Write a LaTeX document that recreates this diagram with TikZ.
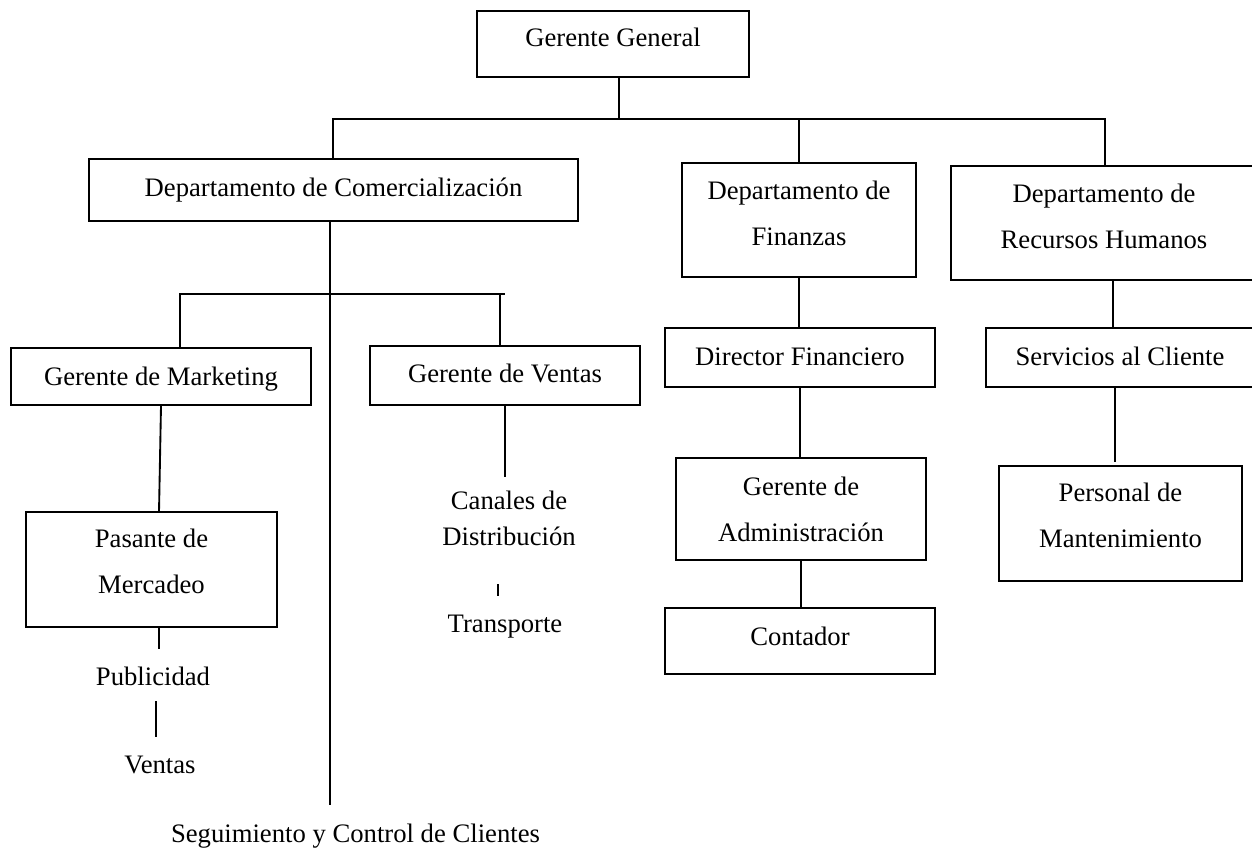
\documentclass[tikz,border=0pt]{standalone}
\usepackage{fontspec}
\setmainfont{Liberation Serif}
\usetikzlibrary{calc}
\newcommand\LiftTxt[2]{\raisebox{#1}[\height][\depth]{\begin{tabular}{@{}c@{}}#2\end{tabular}}}
\begin{document}
\begin{tikzpicture}[x=0.75pt,y=-0.75pt,line width=1.4pt,
  every node/.style={font=\fontsize{20}{34.5}\selectfont,inner sep=0pt},
  orgbox/.style={draw,rectangle,line width=1.4pt},
  sz/.style 2 args={minimum width=#1*0.75pt,minimum height=#2*0.75pt}]
\useasboundingbox (0,0) rectangle (1252,848);
\clip (0,0) rectangle (1252,848);

% boxes
\node[orgbox,sz={272}{66}]  (gg)   at (613,44)      {\LiftTxt{5.25pt}{Gerente General}};
\node[orgbox,sz={489}{62}]  (dcom) at (333.5,190)   {\LiftTxt{2.25pt}{Departamento de Comercialización}};
\node[orgbox,sz={234}{114}] (dfin) at (799,220)     {\LiftTxt{5.25pt}{Departamento de\\Finanzas}};
\node[orgbox,sz={306}{114}] (drh)  at (1104,223)    {\LiftTxt{5.25pt}{Departamento de\\Recursos Humanos}};
\node[orgbox,sz={300}{57}]  (gmk)  at (161,376.5)   {\LiftTxt{0pt}{Gerente de Marketing}};
\node[orgbox,sz={270}{59}]  (gven) at (505,375.5)   {\LiftTxt{1.5pt}{Gerente de Ventas}};
\node[orgbox,sz={270}{59}]  (dirf) at (800,357.5)   {\LiftTxt{0.75pt}{Director Financiero}};
\node[orgbox,sz={268}{59}]  (serv) at (1120,357.5)  {\LiftTxt{0.75pt}{Servicios al Cliente}};
\node[orgbox,sz={251}{115}] (pas)  at (151.5,569.5) {\LiftTxt{6pt}{Pasante de\\Mercadeo}};
\node[orgbox,sz={250}{102}] (gadm) at (801,509)     {\LiftTxt{0pt}{Gerente de\\Administración}};
\node[orgbox,sz={243}{115}] (pers) at (1120.5,523.5){\LiftTxt{6pt}{Personal de\\Mantenimiento}};
\node[orgbox,sz={270}{66}]  (cont) at (800,641)     {\LiftTxt{3.75pt}{Contador}};

% plain texts
\node (publ)   at (153,676)   {\LiftTxt{0pt}{Publicidad}};
\node (vent)   at (160,764)   {\LiftTxt{0pt}{Ventas}};
\node[font=\fontsize{20}{26.6}\selectfont] (canal) at (509,520.5) {\LiftTxt{0pt}{Canales de\\Distribución}};
\node (transp) at (505,623)   {\LiftTxt{0pt}{Transporte}};
\node (seg)    at (355.5,833) {\LiftTxt{0pt}{Seguimiento y Control de Clientes}};

% junction coordinates
\coordinate (j0)  at (619,119);
\coordinate (bL)  at (333,119);
\coordinate (bR)  at (1105,119);
\coordinate (segEnd) at (330,805);
\coordinate (c2L) at (180,294);
\coordinate (c2R) at (505,294);
\coordinate (c2V) at (500,294);
\coordinate (pasTop) at (159,512);
\coordinate (p1)  at (159,649);
\coordinate (p2)  at (156,701);
\coordinate (p3)  at (156,737);
\coordinate (k1)  at (505,477);
\coordinate (t1)  at (498,584);
\coordinate (t2)  at (498,596);
\coordinate (r1)  at (1113,328);
\coordinate (r2)  at (1115,462);

% connectors
\draw (gg.south -| j0) -- (j0);
\draw (dcom.north -| bL) -- (bL) -- (bR) -- (drh.north -| bR);
\draw (dfin.north) -- (dfin.north |- bL);
\draw (dcom.south -| segEnd) -- (segEnd);
\draw (gmk.north -| c2L) -- (c2L) -- (c2R);
\draw (c2V) -- (gven.north -| c2V);
\draw (gmk.south) -- (pasTop);
\draw (pas.south -| p1) -- (p1);
\draw (p2) -- (p3);
\draw (gven.south) -- (k1);
\draw (t1) -- (t2);
\draw (dfin.south) -- (dirf.north -| dfin.south);
\draw (dirf.south) -- (gadm.north -| dirf.south);
\draw (gadm.south) -- (cont.north -| gadm.south);
\draw (drh.south -| r1) -- (r1);
\draw (serv.south -| r2) -- (r2);
\end{tikzpicture}
\end{document}
